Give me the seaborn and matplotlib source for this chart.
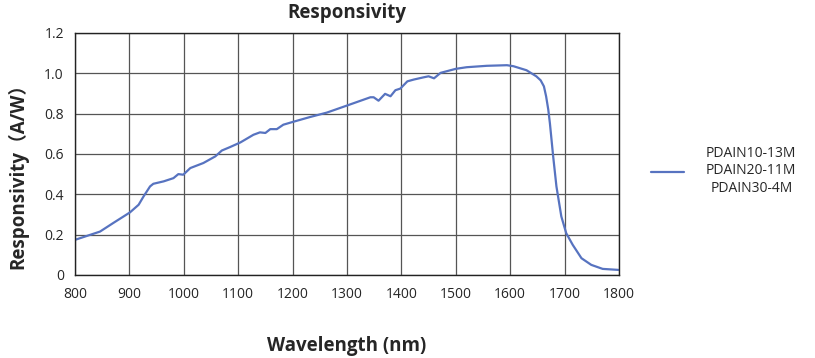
import numpy as np
import pandas as pd
import matplotlib
matplotlib.use('Agg')
import matplotlib.pyplot as plt
import seaborn as sns

# Curva de respuesta
wavelength = [800, 846, 870, 901, 917, 926, 938, 944, 963, 981, 990, 999, 1012, 1036,
              1058, 1070, 1085, 1104, 1128, 1140, 1150, 1159, 1171, 1183, 1202, 1232,
              1263, 1300, 1343, 1349, 1358, 1370, 1380, 1389, 1398, 1411, 1423, 1441,
              1450, 1460, 1472, 1500, 1520, 1557, 1594, 1606, 1630, 1648, 1656, 1662, 1666,
              1670, 1673, 1679, 1685, 1694, 1703, 1715, 1731, 1749, 1770, 1799]
responsivity = [0.174, 0.215, 0.257, 0.31, 0.348, 0.389, 0.439, 0.452, 0.464, 0.48, 0.50,
                0.497, 0.53, 0.555, 0.588, 0.617, 0.634, 0.657, 0.695, 0.707, 0.704, 0.723,
                0.723, 0.745, 0.76, 0.783, 0.805, 0.84, 0.881, 0.881, 0.864, 0.898, 0.886,
                0.916, 0.924, 0.96, 0.969, 0.98, 0.985, 0.975, 1.002, 1.022, 1.03, 1.037,
                1.04, 1.035, 1.015, 0.985, 0.965, 0.935, 0.886, 0.82, 0.752, 0.588, 0.439,
                0.29, 0.207, 0.149, 0.083, 0.05, 0.03, 0.025]
label = 'PDAIN10-13M\nPDAIN20-11M\nPDAIN30-4M'
x_ticks = list(range(800, 1801, 100))
y_ticks = [0, 0.2, 0.4, 0.6, 0.8, 1.0, 1.2]
y_labels = ['0', '0.2', '0.4', '0.6', '0.8', '1.0', '1.2']

df = pd.DataFrame({'wl': wavelength, 'r': responsivity, 'serie': label})

sns.set_style('white')
plt.rcParams['font.family'] = ['Open Sans', 'Noto Sans CJK SC', 'DejaVu Sans']

fig = plt.figure(figsize=(8.15, 3.58), dpi=100)
ax = fig.add_axes([0.092, 0.232, 0.6675, 0.676])

sns.lineplot(data=df, x='wl', y='r', hue='serie', palette=['#5773C0'], linewidth=1.6, ax=ax)

ax.set_xlim(800, 1800)
ax.set_ylim(0, 1.2)
ax.set_xticks(x_ticks)
ax.set_yticks(y_ticks)
ax.set_yticklabels(y_labels)
ax.tick_params(axis='both', labelsize=10, length=0)
ax.tick_params(axis='x', pad=9)
ax.tick_params(axis='y', pad=8)
ax.grid(True, color='#555555', linewidth=0.9)
for s in ax.spines.values():
    s.set_color('#222222')
    s.set_linewidth(1.0)

ax.set_title('Responsivity', fontsize=13.5, fontweight='bold', pad=11)
ax.set_xlabel('Wavelength (nm)', fontsize=13.5, fontweight='bold', labelpad=24)
ax.set_ylabel('Responsivity（A/W）', fontsize=13.5, fontweight='bold')
ax.yaxis.set_label_coords(-0.086, 0.43)

leg = ax.legend(loc='center left', bbox_to_anchor=(1.035, 0.43), frameon=False,
                fontsize=10, handlelength=2.4, handletextpad=1.6, title=None)
for t in leg.get_texts():
    t.set_multialignment('center')

fig.savefig('out.png', dpi=100)
